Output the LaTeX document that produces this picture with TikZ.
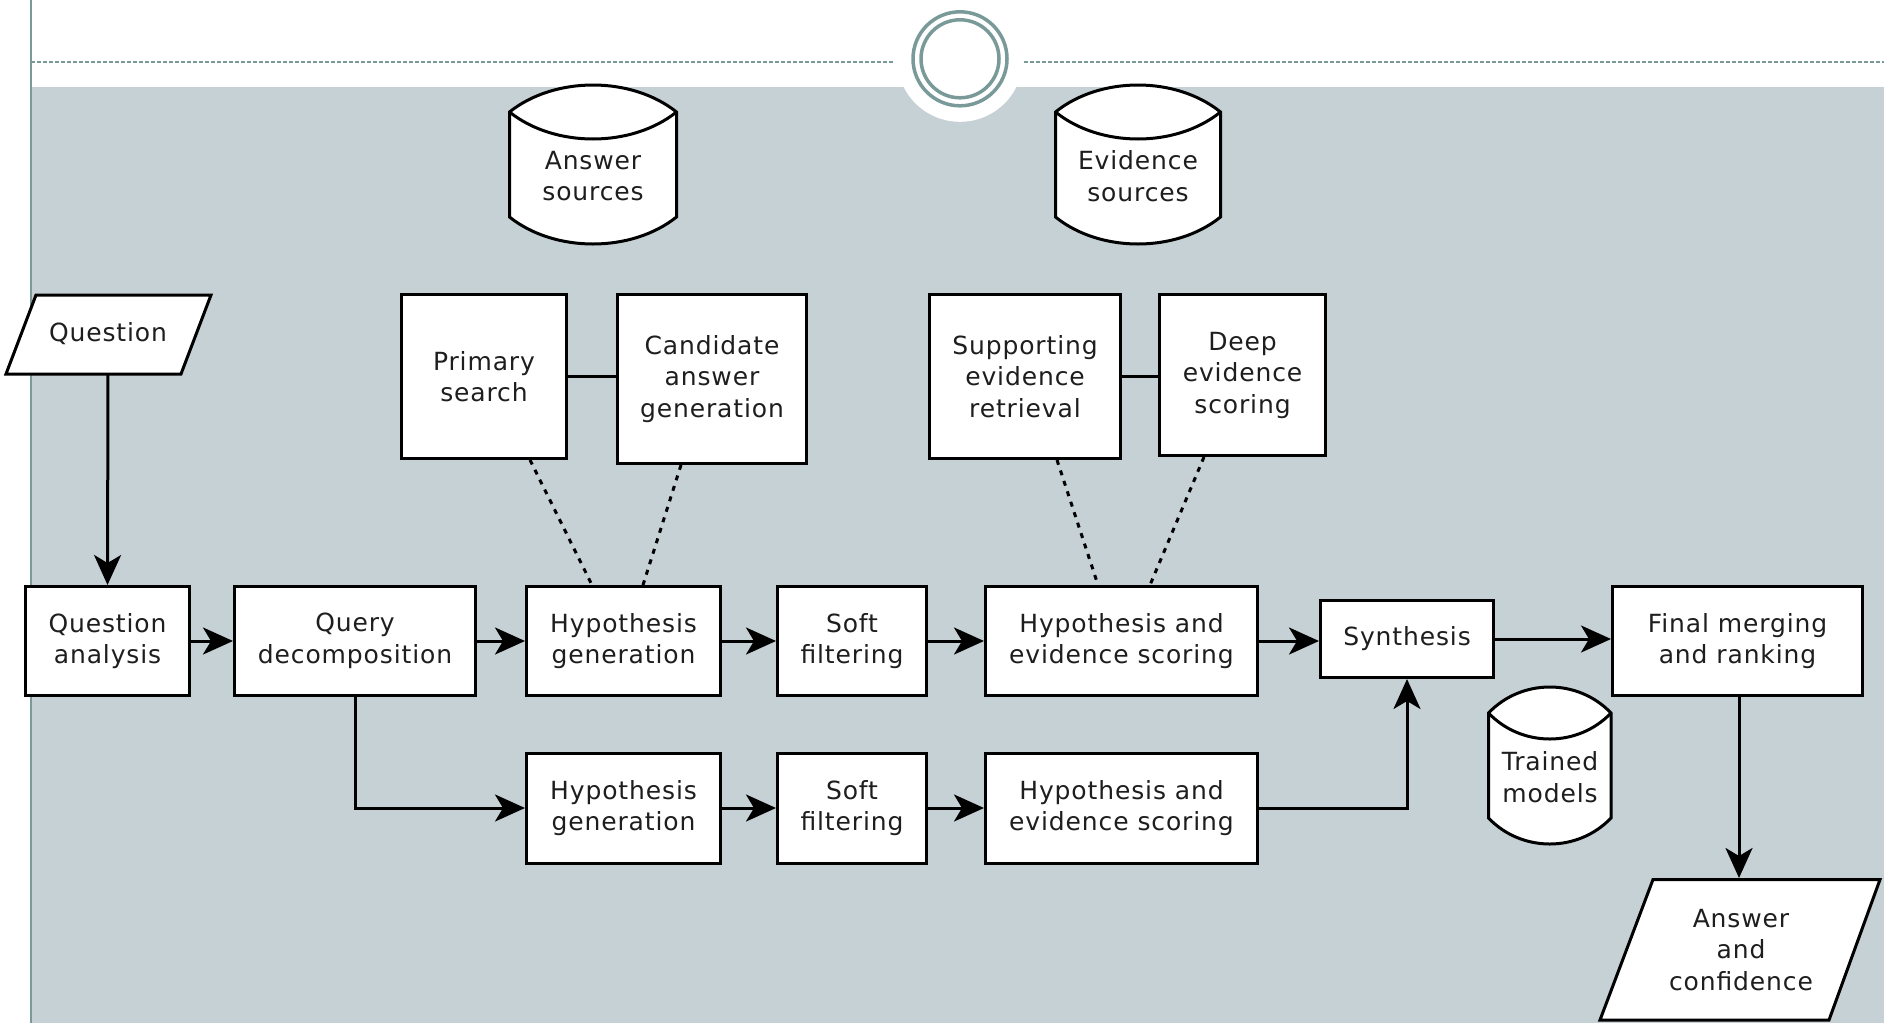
\documentclass[tikz,border=0pt]{standalone}
\usepackage{fontspec}
\setmainfont{DejaVu Sans}[LetterSpace=3.5]
\usetikzlibrary{arrows.meta,calc}
\definecolor{bgray}{RGB}{198,209,214}
\definecolor{tealgray}{RGB}{122,154,154}
\definecolor{txt}{RGB}{30,30,30}
\newcommand\mycyl[5]{%
  \pgfmathsetmacro\cw{#2-#1}%
  \pgfmathsetmacro\cxa{#1+0.27*\cw}%
  \pgfmathsetmacro\cxb{#2-0.27*\cw}%
  \pgfmathsetmacro\cyt{#3-4*#5/3}%
  \pgfmathsetmacro\cyti{#3+4*#5/3}%
  \pgfmathsetmacro\cyb{#4+4*#5/3}%
  \draw[cyl] (#1,#3) .. controls (\cxa,\cyt) and (\cxb,\cyt) .. (#2,#3) -- (#2,#4)
     .. controls (\cxb,\cyb) and (\cxa,\cyb) .. (#1,#4) -- cycle;
  \draw[cyl] (#1,#3) .. controls (\cxa,\cyti) and (\cxb,\cyti) .. (#2,#3);
}
\begin{document}
\begin{tikzpicture}[x=1pt,y=-1pt,
  lbl/.style={align=center, inner sep=0pt, text=txt, font=\fontsize{25}{31.5}\selectfont},
  box/.style={lbl, draw=black, fill=white, line width=3pt},
  cyl/.style={draw=black, fill=white, line width=3pt, line join=miter},
  arr/.style={line width=3pt, -{Stealth[length=30pt,width=27pt,inset=8pt]}},
  plain/.style={line width=3pt},
  dotc/.style={line width=3pt, dash pattern=on 5pt off 6pt}]
\useasboundingbox (0,0) rectangle (1884,1023);
\fill[white] (0,0) rectangle (1884,1023);
\fill[bgray] (31,87) rectangle (1884,1023);
\draw[tealgray, line width=1.2pt] (31,0) -- (31,1023);
\draw[tealgray, line width=1.2pt, dash pattern=on 4pt off 2pt] (31,62) -- (893,62) (1024,62) -- (1884,62);
\fill[white] (960,58.8) circle[radius=63];
\draw[tealgray, line width=3.5pt] (960,58.8) circle[radius=47] (960,58.8) circle[radius=39];

% cylinders
\mycyl{509.5}{676.5}{112}{217}{27}
\node[lbl] (as) at (593,176) {Answer\\sources};
\mycyl{1055.5}{1220.5}{112}{217}{27}
\node[lbl] (es) at (1138,176) {Evidence\\sources};
\mycyl{1488.5}{1611}{713}{818}{26}
\node[lbl] (tm) at (1550,777) {Trained\\models};

% parallelograms
\draw[cyl] (36,295) -- (211,295) -- (181,374) -- (6,374) -- cycle;
\node[lbl] (q) at (108,334) {Question};
\coordinate (qbot) at (108,374);
\draw[cyl] (1653,879.5) -- (1880,879.5) -- (1829,1020) -- (1600,1020) -- cycle;
\node[lbl] (ac) at (1741,950) {Answer\\and\\confidence};
\coordinate (actop) at (1739,878);

% boxes
\node[box, minimum width=164pt, minimum height=109pt] (qa) at (107.5,641) {Question\\analysis};
\node[box, minimum width=241pt, minimum height=109pt] (qd) at (355,641) {Query\\decomposition};
\node[box, minimum width=194pt, minimum height=109pt] (hga) at (623.5,641) {Hypothesis\\generation};
\node[box, minimum width=149pt, minimum height=109pt] (sfa) at (852,641) {Soft\\filtering};
\node[box, minimum width=272pt, minimum height=109pt] (hesa) at (1121.5,641) {Hypothesis and\\evidence scoring};
\node[box, minimum width=173pt, minimum height=77pt] (syn) at (1407,639) {Synthesis};
\node[box, minimum width=250pt, minimum height=109pt] (fmr) at (1737.5,641) {Final merging\\and ranking};
\node[box, minimum width=194pt, minimum height=110pt] (hgb) at (623.5,808) {Hypothesis\\generation};
\node[box, minimum width=149pt, minimum height=110pt] (sfb) at (852,808) {Soft\\filtering};
\node[box, minimum width=272pt, minimum height=110pt] (hesb) at (1121.5,808) {Hypothesis and\\evidence scoring};
\node[box, minimum width=165pt, minimum height=164pt] (ps) at (484,376.5) {Primary\\search};
\node[box, minimum width=189pt, minimum height=169pt] (cag) at (712,379) {Candidate\\answer\\generation};
\node[box, minimum width=191pt, minimum height=164pt] (ser) at (1025,376.5) {Supporting\\evidence\\retrieval};
\node[box, minimum width=166pt, minimum height=161pt] (des) at (1242.5,375) {Deep\\evidence\\scoring};

% connectors
\draw[arr] (qbot) -- (qa.north);
\draw[arr] (qa.east) -- (qd.west);
\draw[arr] (qd.east) -- (hga.west);
\draw[arr] (hga.east) -- (sfa.west);
\draw[arr] (sfa.east) -- (hesa.west);
\draw[arr] (hesa.east) -- (hesa.east -| syn.west);
\draw[arr] (syn.east) -- (syn.east -| fmr.west);
\draw[arr] (qd.south) |- (hgb.west);
\draw[arr] (hgb.east) -- (sfb.west);
\draw[arr] (sfb.east) -- (hesb.west);
\draw[arr] (hesb.east) -| (syn.south);
\draw[arr] (fmr.south -| actop) -- (actop);
\draw[plain] (ps.east) -- (ps.east -| cag.west);
\draw[plain] (ser.east) -- (ser.east -| des.west);
\draw[dotc] ([xshift=46pt]ps.south) -- ([xshift=-31.5pt]hga.north);
\draw[dotc] ([xshift=-31pt]cag.south) -- ([xshift=19.5pt]hga.north);
\draw[dotc] ([xshift=32pt]ser.south) -- ([xshift=-23.5pt]hesa.north);
\draw[dotc] ([xshift=-38.5pt]des.south) -- ([xshift=28.5pt]hesa.north);
\end{tikzpicture}
\end{document}
